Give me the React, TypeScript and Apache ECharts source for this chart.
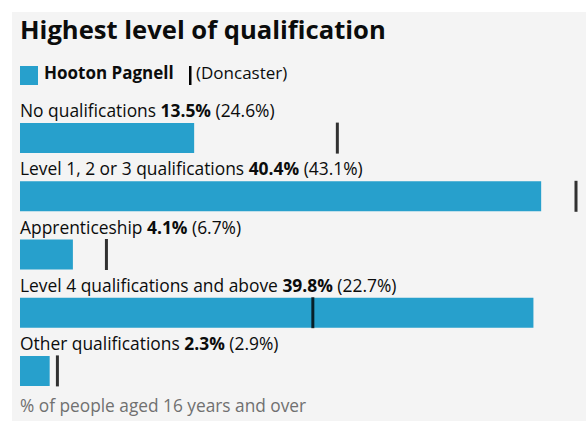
import React, { useEffect, useRef } from "react";
import * as echarts from "echarts";

const categories = [
  "No qualifications",
  "Level 1, 2 or 3 qualifications",
  "Apprenticeship",
  "Level 4 qualifications and above",
  "Other qualifications",
];
const areaValues = [13.5, 40.4, 4.1, 39.8, 2.3];
const comparisonValues = [24.6, 43.1, 6.7, 22.7, 2.9];
const areaName = "Hooton Pagnell";
const comparisonName = "(Doncaster)";
const titleText = "Highest level of qualification";
const footerText = "% of people aged 16 years and over";

const FONT = "'Open Sans', sans-serif";
const BLUE = "#27a0cc";

export default function App() {
  const ref = useRef<HTMLDivElement>(null);
  useEffect(() => {
    if (!ref.current) return;
    const chart = echarts.init(ref.current, null, { renderer: "svg" });
    const maxVal = Math.max(...areaValues, ...comparisonValues);
    chart.setOption({
      animation: false,
      backgroundColor: "#ffffff",
      textStyle: { fontFamily: FONT },
      grid: { left: 20, right: 10, top: 109, bottom: 21, containLabel: false },
      xAxis: { type: "value", min: 0, max: maxVal, show: false },
      yAxis: {
        type: "category",
        data: categories,
        inverse: true,
        show: false,
      },
      graphic: [
        {
          type: "rect",
          z: -10,
          silent: true,
          shape: { x: 12, y: 12, width: 574, height: 409 },
          style: { fill: "#f4f4f4" },
        },
        {
          type: "text",
          left: 20,
          top: 16,
          style: {
            text: titleText,
            font: `bold 25.6px ${FONT}`,
            fill: "#0b0c0c",
          },
        },
        {
          type: "rect",
          shape: { x: 20, y: 66, width: 18, height: 19 },
          style: { fill: BLUE },
        },
        {
          type: "text",
          left: 44,
          top: 64,
          style: {
            text: areaName,
            font: `bold 17px ${FONT}`,
            fill: "#0b0c0c",
          },
        },
        {
          type: "rect",
          shape: { x: 189, y: 66, width: 2.5, height: 19 },
          style: { fill: "#000000" },
        },
        {
          type: "text",
          left: 196,
          top: 64,
          style: {
            text: comparisonName,
            font: `17px ${FONT}`,
            fill: "#0b0c0c",
          },
        },
        {
          type: "text",
          left: 20,
          top: 397,
          style: {
            text: footerText,
            font: `17.3px ${FONT}`,
            fill: "#707070",
          },
        },
      ],
      series: [
        {
          type: "bar",
          data: areaValues,
          barWidth: 30,
          itemStyle: { color: BLUE },
          label: {
            show: true,
            position: [0, -13],
            align: "left",
            verticalAlign: "middle",
            formatter: (p: any) =>
              `{n|${categories[p.dataIndex]} }{b|${areaValues[p.dataIndex]}%}{n| (${comparisonValues[p.dataIndex]}%)}`,
            rich: {
              n: { fontFamily: FONT, fontSize: 17.4, color: "#0b0c0c" },
              b: { fontFamily: FONT, fontSize: 17.4, fontWeight: "bold", color: "#0b0c0c" },
            },
          },
        },
        {
          type: "scatter",
          data: comparisonValues,
          symbol: "rect",
          symbolSize: [3, 31],
          itemStyle: { color: "#000000" },
          z: 5,
        },
      ],
    });
    return () => chart.dispose();
  }, []);
  return (
    <div style={{ position: "absolute", left: 0, top: 0, width: 586, height: 421 }}>
      <div ref={ref} style={{ width: 586, height: 421 }} />
    </div>
  );
}
